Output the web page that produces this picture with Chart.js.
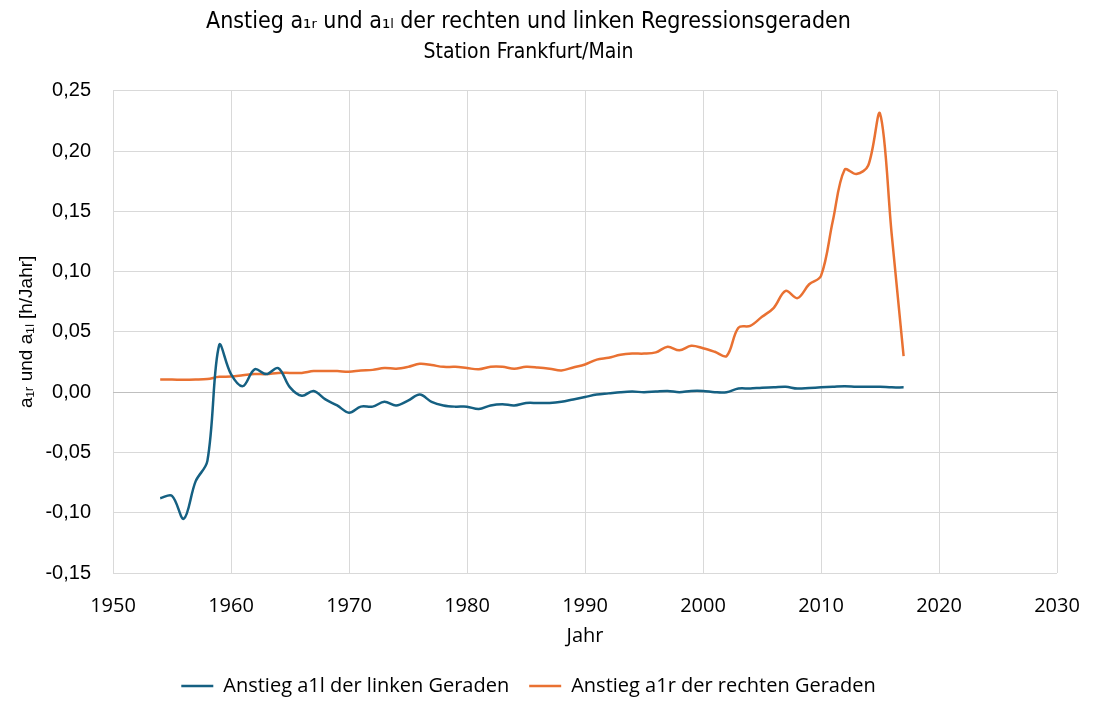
<!DOCTYPE html>
<html lang="de">
<head>
<meta charset="utf-8">
<title>Anstieg a1r und a1l</title>
<script src="https://cdn.jsdelivr.net/npm/chart.js@4/dist/chart.umd.min.js"></script>
<style>
  html, body { margin: 0; padding: 0; background: #fff; }
  #wrap { width: 1096px; height: 714px; position: relative; }
</style>
</head>
<body>
<div id="wrap"><canvas id="myChart" width="1096" height="714"></canvas></div>
<script>
// data

const years = [
  1954, 1955, 1956, 1957, 1958, 1959, 1960, 1961, 1962, 1963,
  1964, 1965, 1966, 1967, 1968, 1969, 1970, 1971, 1972, 1973,
  1974, 1975, 1976, 1977, 1978, 1979, 1980, 1981, 1982, 1983,
  1984, 1985, 1986, 1987, 1988, 1989, 1990, 1991, 1992, 1993,
  1994, 1995, 1996, 1997, 1998, 1999, 2000, 2001, 2002, 2003,
  2004, 2005, 2006, 2007, 2008, 2009, 2010, 2011, 2012, 2013,
  2014, 2015, 2016, 2017,
];

const slopeLeft = [
  -0.088, -0.086, -0.105, -0.074, -0.057, 0.039, 0.015, 0.005, 0.019, 0.015,
  0.020, 0.004, -0.003, 0.001, -0.006, -0.011, -0.017, -0.012, -0.012, -0.008,
  -0.011, -0.007, -0.002, -0.008, -0.011, -0.012, -0.012, -0.014, -0.011, -0.010,
  -0.011, -0.009, -0.009, -0.009, -0.008, -0.006, -0.004, -0.002, -0.001, 0.000,
  0.0005, 0.000, 0.0005, 0.001, 0.000, 0.001, 0.001, 0.000, 0.000, 0.003,
  0.003, 0.0037, 0.004, 0.0045, 0.003, 0.0035, 0.004, 0.0045, 0.005, 0.0045,
  0.0045, 0.0045, 0.004, 0.004,
];

const slopeRight = [
  0.0105, 0.0105, 0.0103, 0.0105, 0.011, 0.0127, 0.013, 0.014, 0.015, 0.015,
  0.016, 0.016, 0.016, 0.0175, 0.0175, 0.0175, 0.017, 0.018, 0.0185, 0.020,
  0.0195, 0.021, 0.0235, 0.0225, 0.021, 0.021, 0.020, 0.019, 0.021, 0.021,
  0.0195, 0.021, 0.0205, 0.0195, 0.018, 0.0205, 0.023, 0.027, 0.0285, 0.031,
  0.032, 0.032, 0.033, 0.0377, 0.0347, 0.0385, 0.0365, 0.0335, 0.030, 0.0535,
  0.055, 0.0625, 0.070, 0.084, 0.078, 0.0895, 0.0965, 0.142, 0.1845, 0.181,
  0.188, 0.231, 0.13, 0.030,
];

const xTicks = [1950, 1960, 1970, 1980, 1990, 2000, 2010, 2020, 2030];
const yTicks = [-0.15, -0.10, -0.05, 0.00, 0.05, 0.10, 0.15, 0.20, 0.25];

const toPoints = (values) => values.map((v, i) => ({ x: years[i], y: v }));

const textColor = "#000000";
const gridColor = "#d9d9d9";
const sansFont = "'Open Sans', 'Noto Sans', sans-serif";
const arialFont = "'Liberation Sans', Arial, sans-serif";
const narrowFont = "'Liberation Sans Narrow', 'DejaVu Sans Condensed', sans-serif";

// chart
const ctx = document.getElementById("myChart");

new Chart(ctx, {
  type: "line",
  data: {
    datasets: [
      {
        label: "Anstieg a1l der linken Geraden",
        data: toPoints(slopeLeft),
        borderColor: "#156082",
        backgroundColor: "#156082",
        borderWidth: 2.5,
        pointRadius: 0,
        tension: 0.35,
      },
      {
        label: "Anstieg a1r der rechten Geraden",
        data: toPoints(slopeRight),
        borderColor: "#e97132",
        backgroundColor: "#e97132",
        borderWidth: 2.5,
        pointRadius: 0,
        tension: 0.35,
      },
    ],
  },
  options: {
    responsive: false,
    animation: false,
    layout: {
      padding: { left: 0, right: 39, top: 0, bottom: 8 },
    },
    plugins: {
      title: {
        display: true,
        text: "Anstieg a\u2081\u1d63 und a\u2081\u2097 der rechten und linken Regressionsgeraden",
        color: textColor,
        font: { family: narrowFont, size: 23, weight: "normal" },
        padding: { top: 8, bottom: 4 },
      },
      subtitle: {
        display: true,
        text: "Station Frankfurt/Main",
        color: textColor,
        font: { family: narrowFont, size: 21 },
        padding: { top: 0, bottom: 26 },
      },
      legend: {
        position: "bottom",
        labels: {
          color: textColor,
          font: { family: sansFont, size: 20 },
          usePointStyle: true,
          pointStyle: "line",
          pointStyleWidth: 32,
          boxHeight: 3,
          padding: 20,
        },
      },
      tooltip: { enabled: false },
    },
    scales: {
      x: {
        type: "linear",
        min: 1950,
        max: 2030,
        afterBuildTicks: (scale) => {
          scale.ticks = xTicks.map((v) => ({ value: v }));
        },
        // the last tick label may stick out into the right margin
        afterFit: (scale) => {
          scale.paddingLeft = 0;
          scale.paddingRight = 0;
        },
        grid: { color: gridColor, drawTicks: false },
        border: { display: false },
        ticks: {
          color: textColor,
          font: { family: sansFont, size: 20 },
          padding: 21,
          maxRotation: 0,
          callback: (value) => String(value),
        },
        title: {
          display: true,
          text: "Jahr",
          color: textColor,
          font: { family: sansFont, size: 20 },
          padding: { top: -15, bottom: 8 },
        },
      },
      y: {
        min: -0.15,
        max: 0.25,
        afterBuildTicks: (scale) => {
          scale.ticks = yTicks.map((v) => ({ value: v }));
        },
        afterFit: (scale) => {
          scale.width = 113;
        },
        grid: {
          color: (c) => (c.tick && Math.abs(c.tick.value) < 1e-9 ? "#bfbfbf" : gridColor),
          drawTicks: false,
        },
        border: { display: false },
        ticks: {
          color: textColor,
          font: { family: arialFont, size: 20 },
          padding: 22,
          callback: (value) => value.toFixed(2).replace(".", ","),
        },
        title: {
          display: true,
          text: "a\u2081\u1d63 und a\u2081\u2097 [h/Jahr]",
          color: textColor,
          font: { family: arialFont, size: 19 },
          padding: { top: 15, bottom: 0 },
        },
      },
    },
  },
});
</script>
</body>
</html>
